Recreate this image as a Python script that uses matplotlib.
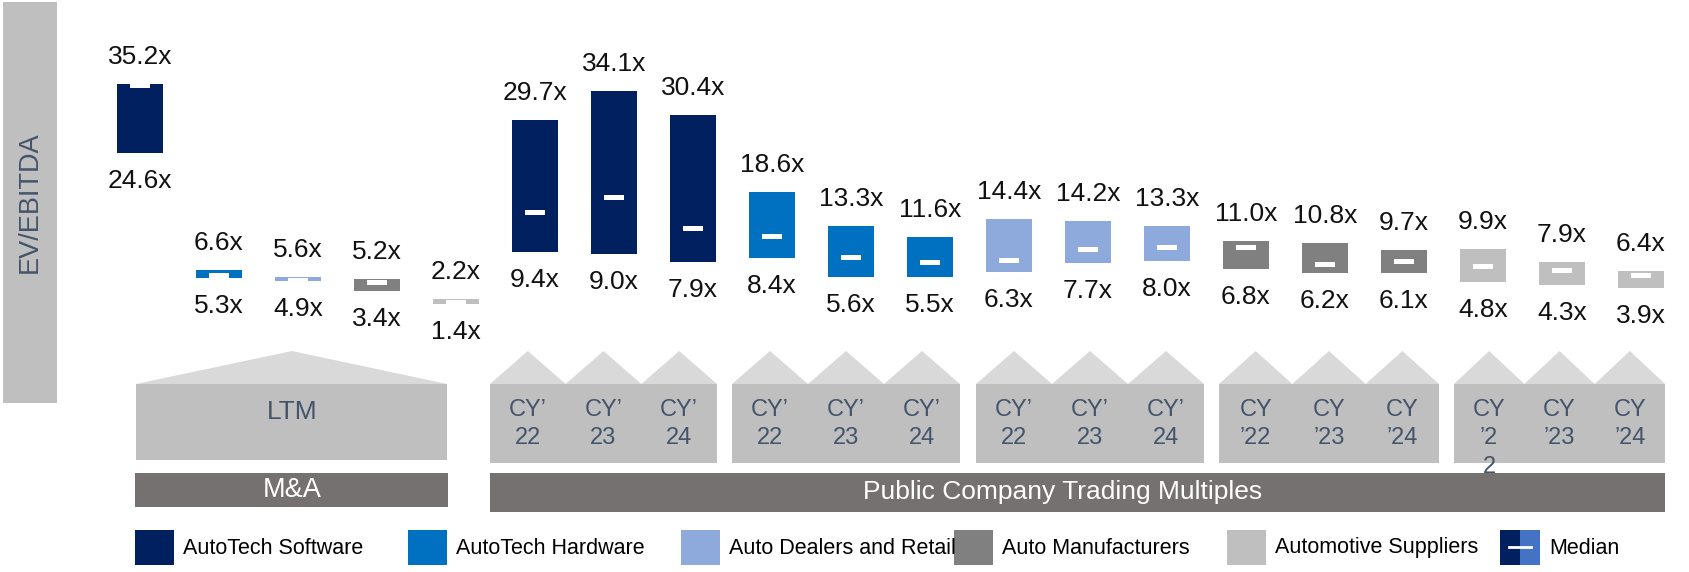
import numpy as np
import matplotlib
matplotlib.use("Agg")
import matplotlib.pyplot as plt
from matplotlib.patches import Rectangle, Polygon
from matplotlib import font_manager

segments = ["AutoTech Software", "AutoTech Hardware", "Auto Dealers and Retail",
            "Auto Manufacturers", "Automotive Suppliers"]
seg_colors = ["#002060", "#0070C0", "#8EA9DB", "#808080", "#BFBFBF"]

# M&A (LTM) ranges, one per segment
ma_high = [35.2, 6.6, 5.6, 5.2, 2.2]
ma_low = [24.6, 5.3, 4.9, 3.4, 1.4]
ma_median = [34.9, 5.8, 5.0, 4.7, 1.6]

# public company trading multiples, CY22 / CY23 / CY24 per segment
pub_high = [29.7, 34.1, 30.4, 18.6, 13.3, 11.6, 14.4, 14.2, 13.3, 11.0, 10.8, 9.7, 9.9, 7.9, 6.4]
pub_low = [9.4, 9.0, 7.9, 8.4, 5.6, 5.5, 6.3, 7.7, 8.0, 6.8, 6.2, 6.1, 4.8, 4.3, 3.9]
pub_median = [15.5, 17.7, 13.0, 11.7, 8.5, 7.8, 8.0, 9.8, 10.0, 10.0, 7.5, 7.9, 7.1, 6.6, 5.8]

period_labels = [["CY’\n22", "CY’\n23", "CY’\n24"],
                 ["CY’\n22", "CY’\n23", "CY’\n24"],
                 ["CY’\n22", "CY’\n23", "CY’\n24"],
                 ["CY\n’22", "CY\n’23", "CY\n’24"],
                 ["CY\n’2\n2", "CY\n’23", "CY\n’24"]]

TXT = "#44546A"
W, H = 1690, 572

names = {f.name for f in font_manager.fontManager.ttflist}
plt.rcParams['font.family'] = 'Liberation Sans' if 'Liberation Sans' in names else 'DejaVu Sans'

fig = plt.figure(figsize=(W / 100, H / 100), dpi=100)

# decoration layer in pixel coords
deco = fig.add_axes([0, 0, 1, 1])
deco.set_xlim(0, W)
deco.set_ylim(H, 0)
deco.set_axis_off()

# bar layer: x = bar index, y = multiple
ax = fig.add_axes([0, 0, 1, 1])
x0px, step = 140, 79
ypx0, yscale = 313, 6.51
ax.set_xlim((0 - x0px) / step, (W - x0px) / step)
ax.set_ylim((ypx0 - H) / yscale, ypx0 / yscale)
ax.set_axis_off()

high = ma_high + pub_high
low = ma_low + pub_low
med = ma_median + pub_median
colors = seg_colors + [c for c in seg_colors for _ in range(3)]
xs = np.arange(len(high))

ax.bar(xs, np.array(high) - np.array(low), bottom=low, width=0.58, color=colors, zorder=2)
mh = 5 / yscale
ax.bar(xs, mh, bottom=np.array(med) - mh / 2, width=0.25, color="white", zorder=3)

for x, hi, lo in zip(xs, high, low):
    ax.annotate(f"{hi:.1f}x", (x, hi), xytext=(0, 27), textcoords="offset pixels",
                ha="center", va="center", fontsize=19, color="#111111")
    ax.annotate(f"{lo:.1f}x", (x, lo), xytext=(0, -28), textcoords="offset pixels",
                ha="center", va="center", fontsize=19, color="#111111")

# y label box
deco.add_patch(Rectangle((3, 2), 54, 401, color="#BFBFBF", lw=0))
deco.text(30, 202, "EV/EBITDA", rotation=90, ha="center", va="center",
          fontsize=19.5, color=TXT)

roof_y, base_y = 351, 384

# LTM house
deco.add_patch(Polygon([(136, base_y), (292, roof_y), (447, base_y)], color="#D9D9D9", lw=0))
deco.add_patch(Rectangle((136, base_y), 311, 76, color="#BFBFBF", lw=0))
deco.text(292, 412, "LTM", ha="center", va="center", fontsize=19, color=TXT)

groups = [(490, 717), (732, 960), (976, 1204), (1219, 1439), (1454, 1665)]
for (gx0, gx1), labs in zip(groups, period_labels):
    third = (gx1 - gx0) / 3
    for k in range(3):
        a = gx0 + k * third
        deco.add_patch(Polygon([(a, base_y), (a + third / 2, roof_y), (a + third, base_y)],
                               color="#D9D9D9", lw=0))
        for j, line in enumerate(labs[k].split("\n")):
            deco.text(a + third / 2, 410 + 28.5 * j, line, ha="center", va="center",
                      fontsize=17, color=TXT, zorder=4)
    deco.add_patch(Rectangle((gx0, base_y), gx1 - gx0, 79, color="#BFBFBF", lw=0))

# bottom section bars
deco.add_patch(Rectangle((135, 473), 313, 34, color="#767171", lw=0))
deco.text(292, 490, "M&A", ha="center", va="center", fontsize=19.5, color="white")
deco.add_patch(Rectangle((490, 473), 1175, 39, color="#767171", lw=0))
deco.text(1063, 492, "Public Company Trading Multiples", ha="center", va="center",
          fontsize=19, color="white")

# legend
lx = [135 + 273 * k for k in range(6)]
for x, name, c in zip(lx, segments, seg_colors):
    deco.add_patch(Rectangle((x, 530), 39, 35, color=c, lw=0))
    deco.text(x + 48, 548, name, ha="left", va="center", fontsize=15.5, color="black")
mx = lx[5]
deco.add_patch(Rectangle((mx, 530), 20, 35, color="#002060", lw=0))
deco.add_patch(Rectangle((mx + 20, 530), 20, 35, color="#4472C4", lw=0))
deco.plot([mx + 9, mx + 31], [547, 547], color="white", lw=2)
deco.text(mx + 49, 548, "Median", ha="left", va="center", fontsize=15.5, color="black")

fig.savefig("out.png", dpi=100)
